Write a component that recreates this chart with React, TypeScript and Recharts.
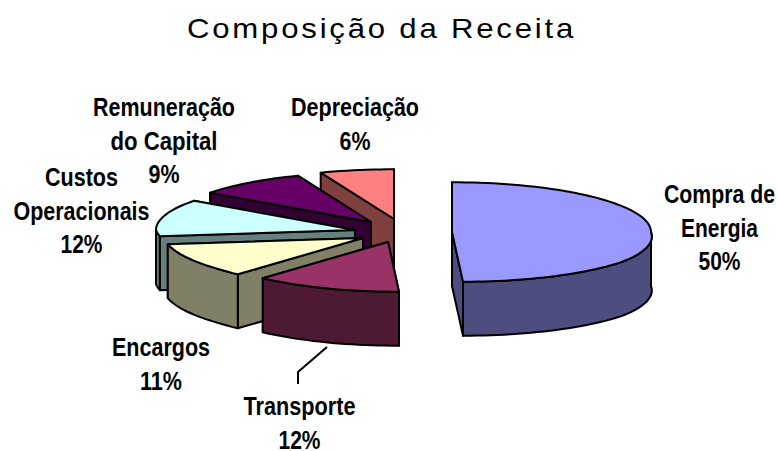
import React from "react";
import { PieChart, Pie } from "recharts";

// painted back to front, counter-clockwise from 12 o'clock
const categories = [
  ["Depreciação"],
  ["Remuneração", "do Capital"],
  ["Custos", "Operacionais"],
  ["Encargos"],
  ["Transporte"],
  ["Compra de", "Energia"],
];
const shares = [6, 9, 12, 11, 12, 50];

const topColors = ["#FF8080", "#660066", "#CCFFFF", "#FFFFCC", "#993366", "#9999FF"];
const sideColors = ["#804040", "#330033", "#668080", "#808066", "#4D1933", "#4D4D80"];

// how far each slice is pulled from the pie centre
const explode = [
  [14, -9],
  [-9, -6],
  [-25, 2],
  [-17, 10],
  [8, 14],
  [72, 4],
];
// label anchor: centre x, first baseline
const labelPos = [
  [355, 116],
  [164, 116],
  [81.5, 186],
  [161, 356],
  [299.5, 415],
  [719.5, 203],
];
// squeezed line widths, the source font is narrower than Liberation Sans
const labelWidths = [
  [128, 31],
  [142, 107, 31],
  [73, 136, 42],
  [98, 42],
  [112, 42],
  [111, 77, 42],
];

const CX = 380;
const CY = 228;
const SQUASH = 0.25;
const DEPTH = 54;

const data = categories.map((lines, i) => ({
  name: lines.join(" "),
  value: shares[i],
  fill: topColors[i],
  side: sideColors[i],
  idx: i,
}));

function Slice3D(props: any) {
  const { cx, cy, outerRadius, startAngle, endAngle, fill, payload } = props;
  const idx = payload?.idx ?? props.idx;
  const side = payload?.side ?? props.side;
  const [ox, oy] = explode[idx];
  const ax = cx + ox;
  const ay = cy + oy;

  const pt = (deg: number, drop = 0) => {
    const a = (deg * Math.PI) / 180;
    const dy = -Math.sin(a) * outerRadius * SQUASH;
    // front of the pie leans right a little, like the perspective in the original
    const dx = Math.cos(a) * outerRadius + Math.min(0.36 * Math.max(dy, 0), 11);
    return [ax + dx, ay + dy + drop];
  };
  const arc = (from: number, to: number, drop = 0) => {
    const out: number[][] = [];
    const steps = Math.max(2, Math.ceil(Math.abs(to - from) / 2));
    for (let i = 0; i <= steps; i++) out.push(pt(from + ((to - from) * i) / steps, drop));
    return out;
  };
  const d = (pts: number[][]) =>
    "M" + pts.map((p) => p[0].toFixed(1) + " " + p[1].toFixed(1)).join("L") + "Z";
  const radial = (deg: number) => {
    const p = pt(deg);
    return d([[ax, ay], p, [p[0], p[1] + DEPTH], [ax, ay + DEPTH]]);
  };

  const from = Math.max(startAngle, 180);
  const to = Math.min(endAngle, 360);
  const stroke = { stroke: "#000", strokeWidth: 2, strokeLinejoin: "round" as const };

  return (
    <g>
      <path d={radial(startAngle)} fill={side} {...stroke} />
      <path d={radial(endAngle)} fill={side} {...stroke} />
      {from < to && (
        <path
          d={d([...arc(from, to), ...arc(to, from, DEPTH)])}
          fill={side}
          {...stroke}
        />
      )}
      <path d={d([[ax, ay], ...arc(startAngle, endAngle)])} fill={fill} {...stroke} />
    </g>
  );
}

function SliceLabel(props: any) {
  const i = props.index;
  const [x, y] = labelPos[i];
  const lines = [...categories[i], shares[i] + "%"];
  return (
    <g>
      {lines.map((t, k) => (
        <text
          key={k}
          x={x}
          y={y + k * 33.5}
          textAnchor="middle"
          fontFamily="'Liberation Sans', Arial, sans-serif"
          fontWeight="bold"
          fontSize={25}
          textLength={labelWidths[i][k]}
          lengthAdjust="spacingAndGlyphs"
          fill="#000"
        >
          {t}
        </text>
      ))}
    </g>
  );
}

export default function App() {
  return (
    <div style={{ position: "absolute", left: 0, top: 0, background: "#fff" }}>
      <PieChart width={777} height={451} margin={{ top: 0, right: 0, bottom: 0, left: 0 }}>
        <text
          x={381.5}
          y={38}
          textAnchor="middle"
          fontFamily="'Liberation Sans', Arial, sans-serif"
          fontSize={28}
          letterSpacing={2.5}
          textLength={389}
          lengthAdjust="spacingAndGlyphs"
          fill="#000"
        >
          Composição da Receita
        </text>
        <Pie
          data={data}
          dataKey="value"
          nameKey="name"
          cx={CX}
          cy={CY}
          innerRadius={0}
          outerRadius={199}
          startAngle={90}
          endAngle={450}
          paddingAngle={0}
          isAnimationActive={false}
          shape={Slice3D}
          inactiveShape={Slice3D}
          label={SliceLabel}
          labelLine={false}
        />
        <polyline
          points="327,347 298,372 298,384"
          fill="none"
          stroke="#000"
          strokeWidth={2}
        />
      </PieChart>
    </div>
  );
}
